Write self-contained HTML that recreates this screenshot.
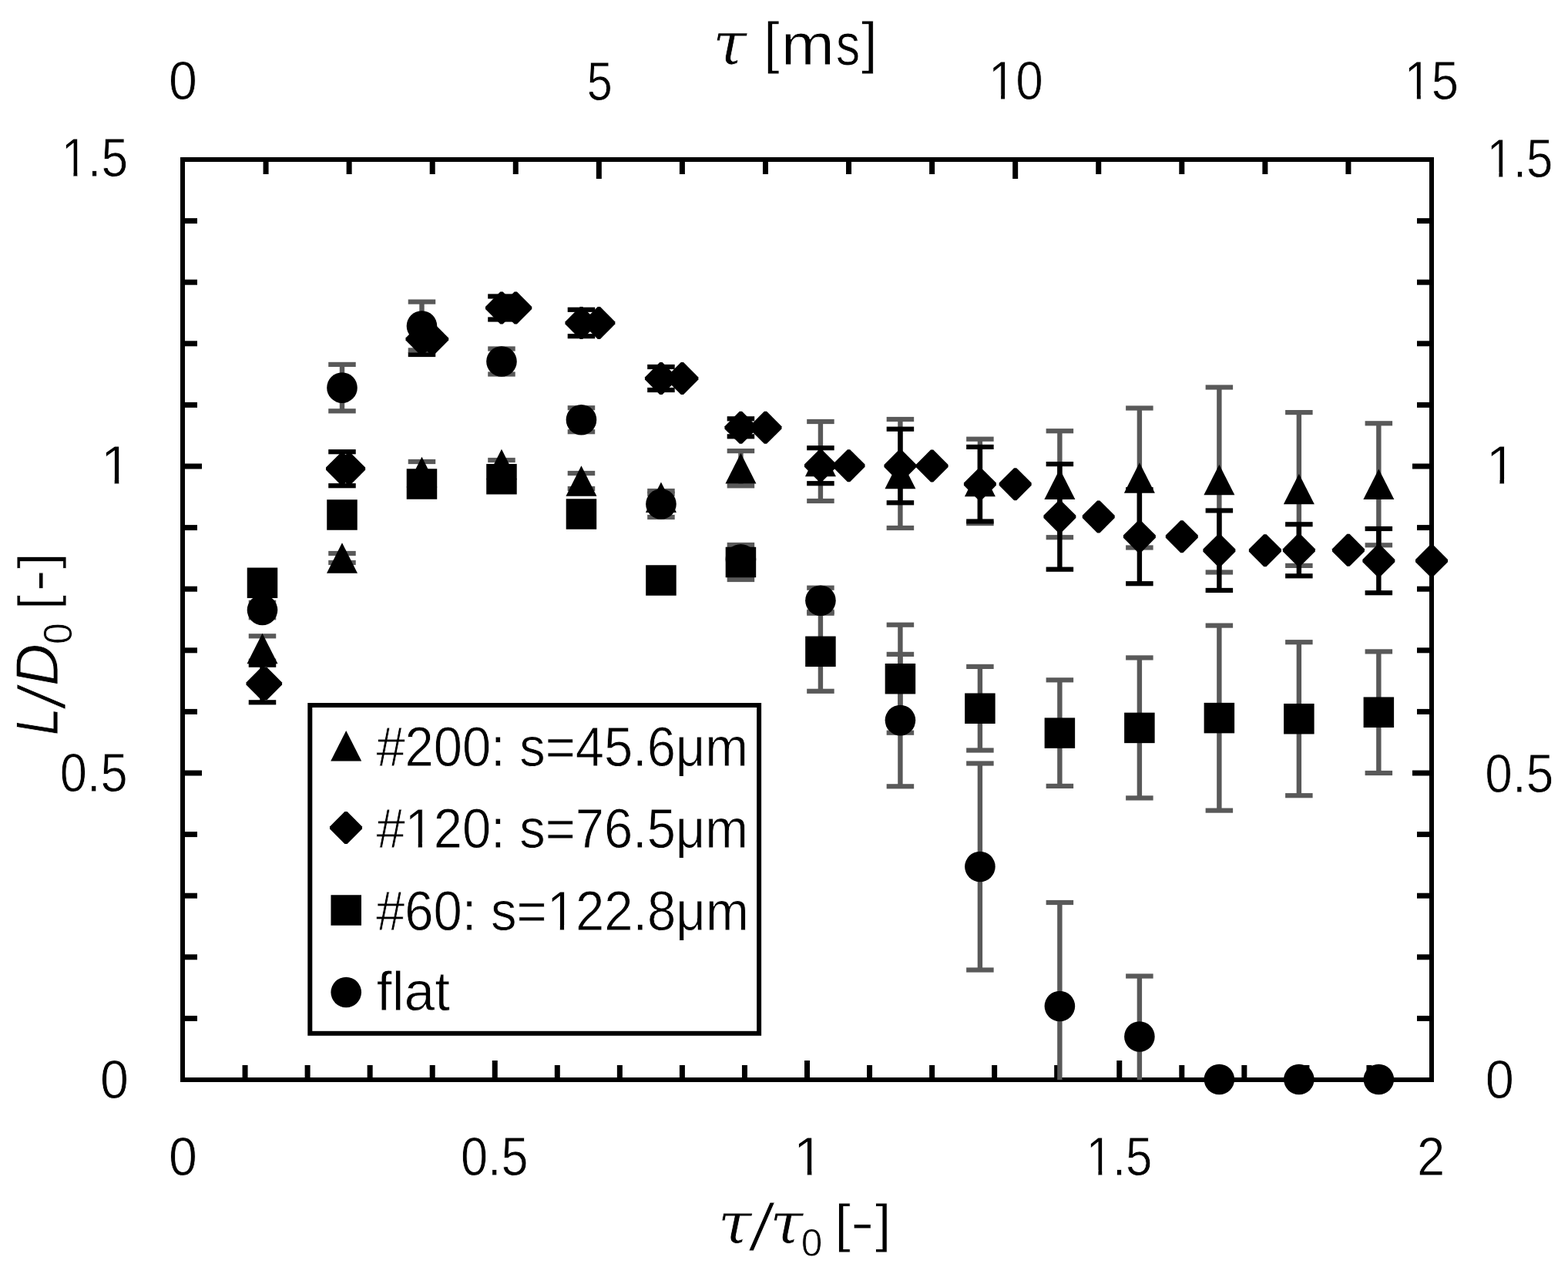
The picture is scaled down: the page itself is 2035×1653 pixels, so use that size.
<!DOCTYPE html>
<html><head><meta charset="utf-8"><title>L/D0 vs tau/tau0</title>
<style>html,body{margin:0;padding:0;background:#fff;}svg{display:block;}</style>
</head><body>
<svg width="2035" height="1653" viewBox="0 0 2035 1653">
<rect width="2035" height="1653" fill="#fff"/>
<rect x="237" y="207" width="1621" height="1194" fill="none" stroke="#000" stroke-width="6"/>
<g fill="#000"><rect x="237" y="1317.9" width="19" height="7"/><rect x="1839" y="1317.9" width="19" height="7"/><rect x="237" y="1238.3" width="19" height="7"/><rect x="1839" y="1238.3" width="19" height="7"/><rect x="237" y="1158.7" width="19" height="7"/><rect x="1839" y="1158.7" width="19" height="7"/><rect x="237" y="1079.1" width="19" height="7"/><rect x="1839" y="1079.1" width="19" height="7"/><rect x="237" y="999.5" width="25" height="7"/><rect x="1833" y="999.5" width="25" height="7"/><rect x="237" y="919.9" width="19" height="7"/><rect x="1839" y="919.9" width="19" height="7"/><rect x="237" y="840.3" width="19" height="7"/><rect x="1839" y="840.3" width="19" height="7"/><rect x="237" y="760.7" width="19" height="7"/><rect x="1839" y="760.7" width="19" height="7"/><rect x="237" y="681.1" width="19" height="7"/><rect x="1839" y="681.1" width="19" height="7"/><rect x="237" y="601.5" width="25" height="7"/><rect x="1833" y="601.5" width="25" height="7"/><rect x="237" y="521.9" width="19" height="7"/><rect x="1839" y="521.9" width="19" height="7"/><rect x="237" y="442.3" width="19" height="7"/><rect x="1839" y="442.3" width="19" height="7"/><rect x="237" y="362.7" width="19" height="7"/><rect x="1839" y="362.7" width="19" height="7"/><rect x="237" y="283.1" width="19" height="7"/><rect x="1839" y="283.1" width="19" height="7"/><rect x="314.55" y="1382" width="7" height="19"/><rect x="395.6" y="1382" width="7" height="19"/><rect x="476.65" y="1382" width="7" height="19"/><rect x="557.7" y="1382" width="7" height="19"/><rect x="638.75" y="1376" width="7" height="25"/><rect x="719.8" y="1382" width="7" height="19"/><rect x="800.85" y="1382" width="7" height="19"/><rect x="881.9" y="1382" width="7" height="19"/><rect x="962.95" y="1382" width="7" height="19"/><rect x="1044" y="1376" width="7" height="25"/><rect x="1125.05" y="1382" width="7" height="19"/><rect x="1206.1" y="1382" width="7" height="19"/><rect x="1287.15" y="1382" width="7" height="19"/><rect x="1368.2" y="1382" width="7" height="19"/><rect x="1449.25" y="1376" width="7" height="25"/><rect x="1530.3" y="1382" width="7" height="19"/><rect x="1611.35" y="1382" width="7" height="19"/><rect x="1692.4" y="1382" width="7" height="19"/><rect x="1773.45" y="1382" width="7" height="19"/><rect x="341.57" y="207" width="7" height="19"/><rect x="449.63" y="207" width="7" height="19"/><rect x="557.7" y="207" width="7" height="19"/><rect x="665.77" y="207" width="7" height="19"/><rect x="773.83" y="207" width="7" height="25"/><rect x="881.9" y="207" width="7" height="19"/><rect x="989.97" y="207" width="7" height="19"/><rect x="1098.03" y="207" width="7" height="19"/><rect x="1206.1" y="207" width="7" height="19"/><rect x="1314.17" y="207" width="7" height="25"/><rect x="1422.23" y="207" width="7" height="19"/><rect x="1530.3" y="207" width="7" height="19"/><rect x="1638.37" y="207" width="7" height="19"/><rect x="1746.43" y="207" width="7" height="19"/></g>
<g><rect x="337.29" y="825.3" width="6.4" height="32.4" fill="#595959"/><rect x="322.74" y="822.2" width="35.5" height="6.2" fill="#595959"/><rect x="322.74" y="854.6" width="35.5" height="6.2" fill="#595959"/><rect x="440.78" y="718" width="6.4" height="12" fill="#595959"/><rect x="426.23" y="714.9" width="35.5" height="6.2" fill="#595959"/><rect x="426.23" y="726.9" width="35.5" height="6.2" fill="#595959"/><rect x="544.27" y="599" width="6.4" height="27.2" fill="#595959"/><rect x="529.72" y="595.9" width="35.5" height="6.2" fill="#595959"/><rect x="529.72" y="623.1" width="35.5" height="6.2" fill="#595959"/><rect x="647.76" y="597" width="6.4" height="11" fill="#595959"/><rect x="633.21" y="593.9" width="35.5" height="6.2" fill="#595959"/><rect x="633.21" y="604.9" width="35.5" height="6.2" fill="#595959"/><rect x="751.25" y="614" width="6.4" height="20" fill="#595959"/><rect x="736.7" y="610.9" width="35.5" height="6.2" fill="#595959"/><rect x="736.7" y="630.9" width="35.5" height="6.2" fill="#595959"/><rect x="854.74" y="640.8" width="6.4" height="9" fill="#595959"/><rect x="840.19" y="637.7" width="35.5" height="6.2" fill="#595959"/><rect x="840.19" y="646.7" width="35.5" height="6.2" fill="#595959"/><rect x="958.23" y="585.1" width="6.4" height="45.2" fill="#595959"/><rect x="943.68" y="582" width="35.5" height="6.2" fill="#595959"/><rect x="943.68" y="627.2" width="35.5" height="6.2" fill="#595959"/><rect x="1061.72" y="547" width="6.4" height="103" fill="#595959"/><rect x="1047.17" y="543.9" width="35.5" height="6.2" fill="#595959"/><rect x="1047.17" y="646.9" width="35.5" height="6.2" fill="#595959"/><rect x="1165.21" y="544" width="6.4" height="141" fill="#595959"/><rect x="1150.66" y="540.9" width="35.5" height="6.2" fill="#595959"/><rect x="1150.66" y="681.9" width="35.5" height="6.2" fill="#595959"/><rect x="1268.7" y="569.7" width="6.4" height="109.4" fill="#595959"/><rect x="1254.15" y="566.6" width="35.5" height="6.2" fill="#595959"/><rect x="1254.15" y="676" width="35.5" height="6.2" fill="#595959"/><rect x="1372.19" y="559.2" width="6.4" height="138" fill="#595959"/><rect x="1357.64" y="556.1" width="35.5" height="6.2" fill="#595959"/><rect x="1357.64" y="694.1" width="35.5" height="6.2" fill="#595959"/><rect x="1475.68" y="529.5" width="6.4" height="181" fill="#595959"/><rect x="1461.13" y="526.4" width="35.5" height="6.2" fill="#595959"/><rect x="1461.13" y="707.4" width="35.5" height="6.2" fill="#595959"/><rect x="1579.17" y="502.5" width="6.4" height="240" fill="#595959"/><rect x="1564.62" y="499.4" width="35.5" height="6.2" fill="#595959"/><rect x="1564.62" y="739.4" width="35.5" height="6.2" fill="#595959"/><rect x="1682.66" y="535.1" width="6.4" height="198.8" fill="#595959"/><rect x="1668.11" y="532" width="35.5" height="6.2" fill="#595959"/><rect x="1668.11" y="730.8" width="35.5" height="6.2" fill="#595959"/><rect x="1786.15" y="549.3" width="6.4" height="158" fill="#595959"/><rect x="1771.6" y="546.2" width="35.5" height="6.2" fill="#595959"/><rect x="1771.6" y="704.2" width="35.5" height="6.2" fill="#595959"/><rect x="337.29" y="862.7" width="6.4" height="48.6" fill="#000"/><rect x="322.74" y="859.6" width="35.5" height="6.2" fill="#000"/><rect x="322.74" y="908.2" width="35.5" height="6.2" fill="#000"/><rect x="440.78" y="586.2" width="6.4" height="44" fill="#000"/><rect x="426.23" y="583.1" width="35.5" height="6.2" fill="#000"/><rect x="426.23" y="627.1" width="35.5" height="6.2" fill="#000"/><rect x="544.27" y="420" width="6.4" height="40" fill="#000"/><rect x="529.72" y="416.9" width="35.5" height="6.2" fill="#000"/><rect x="529.72" y="456.9" width="35.5" height="6.2" fill="#000"/><rect x="647.76" y="384.5" width="6.4" height="30" fill="#000"/><rect x="633.21" y="381.4" width="35.5" height="6.2" fill="#000"/><rect x="633.21" y="411.4" width="35.5" height="6.2" fill="#000"/><rect x="751.25" y="401.8" width="6.4" height="34.4" fill="#000"/><rect x="736.7" y="398.7" width="35.5" height="6.2" fill="#000"/><rect x="736.7" y="433.1" width="35.5" height="6.2" fill="#000"/><rect x="854.74" y="476" width="6.4" height="30" fill="#000"/><rect x="840.19" y="472.9" width="35.5" height="6.2" fill="#000"/><rect x="840.19" y="502.9" width="35.5" height="6.2" fill="#000"/><rect x="958.23" y="543.3" width="6.4" height="23" fill="#000"/><rect x="943.68" y="540.2" width="35.5" height="6.2" fill="#000"/><rect x="943.68" y="563.2" width="35.5" height="6.2" fill="#000"/><rect x="1061.72" y="581.2" width="6.4" height="46" fill="#000"/><rect x="1047.17" y="578.1" width="35.5" height="6.2" fill="#000"/><rect x="1047.17" y="624.1" width="35.5" height="6.2" fill="#000"/><rect x="1165.21" y="556.7" width="6.4" height="95.6" fill="#000"/><rect x="1150.66" y="553.6" width="35.5" height="6.2" fill="#000"/><rect x="1150.66" y="649.2" width="35.5" height="6.2" fill="#000"/><rect x="1268.7" y="579.9" width="6.4" height="96.6" fill="#000"/><rect x="1254.15" y="576.8" width="35.5" height="6.2" fill="#000"/><rect x="1254.15" y="673.4" width="35.5" height="6.2" fill="#000"/><rect x="1372.19" y="602.1" width="6.4" height="136.6" fill="#000"/><rect x="1357.64" y="599" width="35.5" height="6.2" fill="#000"/><rect x="1357.64" y="735.6" width="35.5" height="6.2" fill="#000"/><rect x="1475.68" y="635.2" width="6.4" height="122" fill="#000"/><rect x="1461.13" y="632.1" width="35.5" height="6.2" fill="#000"/><rect x="1461.13" y="754.1" width="35.5" height="6.2" fill="#000"/><rect x="1579.17" y="662.45" width="6.4" height="103.5" fill="#000"/><rect x="1564.62" y="659.35" width="35.5" height="6.2" fill="#000"/><rect x="1564.62" y="762.85" width="35.5" height="6.2" fill="#000"/><rect x="1682.66" y="680.3" width="6.4" height="67" fill="#000"/><rect x="1668.11" y="677.2" width="35.5" height="6.2" fill="#000"/><rect x="1668.11" y="744.2" width="35.5" height="6.2" fill="#000"/><rect x="1786.15" y="686" width="6.4" height="83.2" fill="#000"/><rect x="1771.6" y="682.9" width="35.5" height="6.2" fill="#000"/><rect x="1771.6" y="766.1" width="35.5" height="6.2" fill="#000"/><rect x="958.23" y="707" width="6.4" height="45" fill="#595959"/><rect x="943.68" y="703.9" width="35.5" height="6.2" fill="#595959"/><rect x="943.68" y="748.9" width="35.5" height="6.2" fill="#595959"/><rect x="1061.72" y="793.8" width="6.4" height="103" fill="#595959"/><rect x="1047.17" y="790.7" width="35.5" height="6.2" fill="#595959"/><rect x="1047.17" y="893.7" width="35.5" height="6.2" fill="#595959"/><rect x="1165.21" y="810.7" width="6.4" height="140" fill="#595959"/><rect x="1150.66" y="807.6" width="35.5" height="6.2" fill="#595959"/><rect x="1150.66" y="947.6" width="35.5" height="6.2" fill="#595959"/><rect x="1268.7" y="864.9" width="6.4" height="108.6" fill="#595959"/><rect x="1254.15" y="861.8" width="35.5" height="6.2" fill="#595959"/><rect x="1254.15" y="970.4" width="35.5" height="6.2" fill="#595959"/><rect x="1372.19" y="882.3" width="6.4" height="137.6" fill="#595959"/><rect x="1357.64" y="879.2" width="35.5" height="6.2" fill="#595959"/><rect x="1357.64" y="1016.8" width="35.5" height="6.2" fill="#595959"/><rect x="1475.68" y="853.4" width="6.4" height="182" fill="#595959"/><rect x="1461.13" y="850.3" width="35.5" height="6.2" fill="#595959"/><rect x="1461.13" y="1032.3" width="35.5" height="6.2" fill="#595959"/><rect x="1579.17" y="811.6" width="6.4" height="240" fill="#595959"/><rect x="1564.62" y="808.5" width="35.5" height="6.2" fill="#595959"/><rect x="1564.62" y="1048.5" width="35.5" height="6.2" fill="#595959"/><rect x="1682.66" y="833.2" width="6.4" height="199" fill="#595959"/><rect x="1668.11" y="830.1" width="35.5" height="6.2" fill="#595959"/><rect x="1668.11" y="1029.1" width="35.5" height="6.2" fill="#595959"/><rect x="1786.15" y="845.4" width="6.4" height="157.6" fill="#595959"/><rect x="1771.6" y="842.3" width="35.5" height="6.2" fill="#595959"/><rect x="1771.6" y="999.9" width="35.5" height="6.2" fill="#595959"/><rect x="337.29" y="781.75" width="6.4" height="19.5" fill="#595959"/><rect x="322.74" y="778.65" width="35.5" height="6.2" fill="#595959"/><rect x="322.74" y="798.15" width="35.5" height="6.2" fill="#595959"/><rect x="440.78" y="472.9" width="6.4" height="60.4" fill="#595959"/><rect x="426.23" y="469.8" width="35.5" height="6.2" fill="#595959"/><rect x="426.23" y="530.2" width="35.5" height="6.2" fill="#595959"/><rect x="544.27" y="391.6" width="6.4" height="62.8" fill="#595959"/><rect x="529.72" y="388.5" width="35.5" height="6.2" fill="#595959"/><rect x="529.72" y="451.3" width="35.5" height="6.2" fill="#595959"/><rect x="647.76" y="452.5" width="6.4" height="33" fill="#595959"/><rect x="633.21" y="449.4" width="35.5" height="6.2" fill="#595959"/><rect x="633.21" y="482.4" width="35.5" height="6.2" fill="#595959"/><rect x="751.25" y="529.2" width="6.4" height="31" fill="#595959"/><rect x="736.7" y="526.1" width="35.5" height="6.2" fill="#595959"/><rect x="736.7" y="557.1" width="35.5" height="6.2" fill="#595959"/><rect x="854.74" y="637" width="6.4" height="34" fill="#595959"/><rect x="840.19" y="633.9" width="35.5" height="6.2" fill="#595959"/><rect x="840.19" y="667.9" width="35.5" height="6.2" fill="#595959"/><rect x="1061.72" y="762.7" width="6.4" height="33" fill="#595959"/><rect x="1047.17" y="759.6" width="35.5" height="6.2" fill="#595959"/><rect x="1047.17" y="792.6" width="35.5" height="6.2" fill="#595959"/><rect x="1165.21" y="848.9" width="6.4" height="171.4" fill="#595959"/><rect x="1150.66" y="845.8" width="35.5" height="6.2" fill="#595959"/><rect x="1150.66" y="1017.2" width="35.5" height="6.2" fill="#595959"/><rect x="1268.7" y="990.5" width="6.4" height="268" fill="#595959"/><rect x="1254.15" y="987.4" width="35.5" height="6.2" fill="#595959"/><rect x="1254.15" y="1255.4" width="35.5" height="6.2" fill="#595959"/><rect x="1372.19" y="1171" width="6.4" height="230" fill="#595959"/><rect x="1357.64" y="1167.9" width="35.5" height="6.2" fill="#595959"/><rect x="1475.68" y="1266.5" width="6.4" height="134.5" fill="#595959"/><rect x="1461.13" y="1263.4" width="35.5" height="6.2" fill="#595959"/></g>
<g fill="#000"><polygon points="340.49,821.75 360.49,861.25 320.49,861.25"/><polygon points="443.98,704.25 463.98,743.75 423.98,743.75"/><polygon points="547.47,592.85 567.47,632.35 527.47,632.35"/><polygon points="650.96,582.75 670.96,622.25 630.96,622.25"/><polygon points="754.45,604.25 774.45,643.75 734.45,643.75"/><polygon points="857.94,625.55 877.94,665.05 837.94,665.05"/><polygon points="961.43,587.95 981.43,627.45 941.43,627.45"/><polygon points="1064.92,578.75 1084.92,618.25 1044.92,618.25"/><polygon points="1168.41,594.75 1188.41,634.25 1148.41,634.25"/><polygon points="1271.9,604.65 1291.9,644.15 1251.9,644.15"/><polygon points="1375.39,608.45 1395.39,647.95 1355.39,647.95"/><polygon points="1478.88,600.25 1498.88,639.75 1458.88,639.75"/><polygon points="1582.37,602.75 1602.37,642.25 1562.37,642.25"/><polygon points="1685.86,614.75 1705.86,654.25 1665.86,654.25"/><polygon points="1789.35,608.55 1809.35,648.05 1769.35,648.05"/><polygon points="338.89,866 342.09,866 361.49,885.4 361.49,888.6 342.09,908 338.89,908 319.49,888.6 319.49,885.4"/><polygon points="343.47,866 346.67,866 366.07,885.4 366.07,888.6 346.67,908 343.47,908 324.07,888.6 324.07,885.4"/><polygon points="442.38,587.2 445.58,587.2 464.98,606.6 464.98,609.8 445.58,629.2 442.38,629.2 422.98,609.8 422.98,606.6"/><polygon points="451.53,587.2 454.73,587.2 474.13,606.6 474.13,609.8 454.73,629.2 451.53,629.2 432.13,609.8 432.13,606.6"/><polygon points="545.87,419 549.07,419 568.47,438.4 568.47,441.6 549.07,461 545.87,461 526.47,441.6 526.47,438.4"/><polygon points="559.6,419 562.8,419 582.2,438.4 582.2,441.6 562.8,461 559.6,461 540.2,441.6 540.2,438.4"/><polygon points="649.36,378.5 652.56,378.5 671.96,397.9 671.96,401.1 652.56,420.5 649.36,420.5 629.96,401.1 629.96,397.9"/><polygon points="667.67,378.5 670.87,378.5 690.27,397.9 690.27,401.1 670.87,420.5 667.67,420.5 648.27,401.1 648.27,397.9"/><polygon points="752.85,398 756.05,398 775.45,417.4 775.45,420.6 756.05,440 752.85,440 733.45,420.6 733.45,417.4"/><polygon points="775.73,398 778.93,398 798.33,417.4 798.33,420.6 778.93,440 775.73,440 756.33,420.6 756.33,417.4"/><polygon points="856.34,470 859.54,470 878.94,489.4 878.94,492.6 859.54,512 856.34,512 836.94,492.6 836.94,489.4"/><polygon points="883.8,470 887,470 906.4,489.4 906.4,492.6 887,512 883.8,512 864.4,492.6 864.4,489.4"/><polygon points="959.83,533.8 963.03,533.8 982.43,553.2 982.43,556.4 963.03,575.8 959.83,575.8 940.43,556.4 940.43,553.2"/><polygon points="991.87,533.8 995.07,533.8 1014.47,553.2 1014.47,556.4 995.07,575.8 991.87,575.8 972.47,556.4 972.47,553.2"/><polygon points="1063.32,583.2 1066.52,583.2 1085.92,602.6 1085.92,605.8 1066.52,625.2 1063.32,625.2 1043.92,605.8 1043.92,602.6"/><polygon points="1099.93,583.2 1103.13,583.2 1122.53,602.6 1122.53,605.8 1103.13,625.2 1099.93,625.2 1080.53,605.8 1080.53,602.6"/><polygon points="1166.81,583.5 1170.01,583.5 1189.41,602.9 1189.41,606.1 1170.01,625.5 1166.81,625.5 1147.41,606.1 1147.41,602.9"/><polygon points="1208,583.5 1211.2,583.5 1230.6,602.9 1230.6,606.1 1211.2,625.5 1208,625.5 1188.6,606.1 1188.6,602.9"/><polygon points="1270.3,607.2 1273.5,607.2 1292.9,626.6 1292.9,629.8 1273.5,649.2 1270.3,649.2 1250.9,629.8 1250.9,626.6"/><polygon points="1316.07,607.2 1319.27,607.2 1338.67,626.6 1338.67,629.8 1319.27,649.2 1316.07,649.2 1296.67,629.8 1296.67,626.6"/><polygon points="1373.79,649.4 1376.99,649.4 1396.39,668.8 1396.39,672 1376.99,691.4 1373.79,691.4 1354.39,672 1354.39,668.8"/><polygon points="1424.13,649.4 1427.33,649.4 1446.73,668.8 1446.73,672 1427.33,691.4 1424.13,691.4 1404.73,672 1404.73,668.8"/><polygon points="1477.28,675.2 1480.48,675.2 1499.88,694.6 1499.88,697.8 1480.48,717.2 1477.28,717.2 1457.88,697.8 1457.88,694.6"/><polygon points="1532.2,675.2 1535.4,675.2 1554.8,694.6 1554.8,697.8 1535.4,717.2 1532.2,717.2 1512.8,697.8 1512.8,694.6"/><polygon points="1580.77,693.2 1583.97,693.2 1603.37,712.6 1603.37,715.8 1583.97,735.2 1580.77,735.2 1561.37,715.8 1561.37,712.6"/><polygon points="1640.27,693.2 1643.47,693.2 1662.87,712.6 1662.87,715.8 1643.47,735.2 1640.27,735.2 1620.87,715.8 1620.87,712.6"/><polygon points="1684.26,692.8 1687.46,692.8 1706.86,712.2 1706.86,715.4 1687.46,734.8 1684.26,734.8 1664.86,715.4 1664.86,712.2"/><polygon points="1748.33,692.8 1751.53,692.8 1770.93,712.2 1770.93,715.4 1751.53,734.8 1748.33,734.8 1728.93,715.4 1728.93,712.2"/><polygon points="1787.75,706.6 1790.95,706.6 1810.35,726 1810.35,729.2 1790.95,748.6 1787.75,748.6 1768.35,729.2 1768.35,726"/><polygon points="1856.4,706.6 1859.6,706.6 1879,726 1879,729.2 1859.6,748.6 1856.4,748.6 1837,729.2 1837,726"/><rect x="320.74" y="736.55" width="39.5" height="39.5"/><rect x="424.23" y="648.25" width="39.5" height="39.5"/><rect x="527.72" y="608.25" width="39.5" height="39.5"/><rect x="631.21" y="601.95" width="39.5" height="39.5"/><rect x="734.7" y="647.25" width="39.5" height="39.5"/><rect x="838.19" y="733.25" width="39.5" height="39.5"/><rect x="941.68" y="709.75" width="39.5" height="39.5"/><rect x="1045.17" y="825.55" width="39.5" height="39.5"/><rect x="1148.66" y="860.95" width="39.5" height="39.5"/><rect x="1252.15" y="899.45" width="39.5" height="39.5"/><rect x="1355.64" y="931.35" width="39.5" height="39.5"/><rect x="1459.13" y="924.65" width="39.5" height="39.5"/><rect x="1562.62" y="911.85" width="39.5" height="39.5"/><rect x="1666.11" y="912.95" width="39.5" height="39.5"/><rect x="1769.6" y="904.45" width="39.5" height="39.5"/><circle cx="340.49" cy="791.5" r="19.8"/><circle cx="443.98" cy="503.1" r="19.8"/><circle cx="547.47" cy="423" r="19.8"/><circle cx="650.96" cy="469" r="19.8"/><circle cx="754.45" cy="544.7" r="19.8"/><circle cx="857.94" cy="654" r="19.8"/><circle cx="961.43" cy="725.7" r="19.8"/><circle cx="1064.92" cy="779.2" r="19.8"/><circle cx="1168.41" cy="934.6" r="19.8"/><circle cx="1271.9" cy="1124.5" r="19.8"/><circle cx="1375.39" cy="1305.5" r="19.8"/><circle cx="1478.88" cy="1345" r="19.8"/><circle cx="1582.37" cy="1400.5" r="19.8"/><circle cx="1685.86" cy="1400.5" r="19.8"/><circle cx="1789.35" cy="1400.5" r="19.8"/></g>
<rect x="402.3" y="915" width="582.8" height="425.8" fill="#fff" stroke="#000" stroke-width="6"/><g fill="#000"><polygon points="449.2,948.05 469.2,987.55 429.2,987.55"/><polygon points="447.4,1053 450.6,1053 470,1072.4 470,1075.6 450.6,1095 447.4,1095 428,1075.6 428,1072.4"/><rect x="429.45" y="1161.25" width="39.5" height="39.5"/><circle cx="449.2" cy="1287.5" r="19.8"/></g>
<defs><clipPath id="c0"><path clip-rule="evenodd" d="M0 0H2035V1653H0ZM82.71 222.5H95.49V231.37H82.71ZM100.3 222.5H112.59V231.37H100.3Z"/></clipPath><clipPath id="c1"><path clip-rule="evenodd" d="M0 0H2035V1653H0ZM134.51 620.85H148.72V629.72H134.51ZM154.26 620.85H167.92V629.72H154.26Z"/></clipPath><clipPath id="c4"><path clip-rule="evenodd" d="M0 0H2035V1653H0ZM1932.77 222.9H1945.46V231.77H1932.77ZM1950.22 222.9H1962.42V231.77H1950.22Z"/></clipPath><clipPath id="c5"><path clip-rule="evenodd" d="M0 0H2035V1653H0ZM1932.31 620.8H1946.52V629.67H1932.31ZM1952.06 620.8H1965.72V629.67H1952.06Z"/></clipPath><clipPath id="c10"><path clip-rule="evenodd" d="M0 0H2035V1653H0ZM1033.61 1517.85H1047.82V1526.72H1033.61ZM1053.36 1517.85H1067.02V1526.72H1053.36Z"/></clipPath><clipPath id="c11"><path clip-rule="evenodd" d="M0 0H2035V1653H0ZM1412.77 1517.95H1425.46V1526.82H1412.77ZM1430.22 1517.95H1442.42V1526.82H1430.22Z"/></clipPath><clipPath id="c15"><path clip-rule="evenodd" d="M0 0H2035V1653H0ZM1286.03 122.4H1299.1V131.27H1286.03ZM1304.06 122.4H1316.63V131.27H1304.06Z"/></clipPath><clipPath id="c16"><path clip-rule="evenodd" d="M0 0H2035V1653H0ZM1825.9 121.9H1838.89V130.77H1825.9ZM1843.8 121.9H1856.29V130.77H1843.8Z"/></clipPath><clipPath id="c18"><path clip-rule="evenodd" d="M0 0H2035V1653H0ZM529.17 1092.84H542.74V1101.84H529.17ZM547.95 1092.84H561V1101.84H547.95Z"/></clipPath><clipPath id="c19"><path clip-rule="evenodd" d="M0 0H2035V1653H0ZM713.25 1199.84H726.85V1208.84H713.25ZM732.07 1199.84H745.15V1208.84H732.07Z"/></clipPath></defs><g fill="#000" stroke="#fff" stroke-width="0.8"><text clip-path="url(#c0)" x="79.46" y="229.37" font-family="'Liberation Sans', sans-serif" font-size="70.5" textLength="86.66" lengthAdjust="spacingAndGlyphs">1.5</text><text clip-path="url(#c1)" x="130.64" y="627.72" font-family="'Liberation Sans', sans-serif" font-size="70.5">1</text><text x="77.8" y="1027.27" font-family="'Liberation Sans', sans-serif" font-size="70.5" textLength="87.9" lengthAdjust="spacingAndGlyphs">0.5</text><text x="129.9" y="1425.17" font-family="'Liberation Sans', sans-serif" font-size="70.5" textLength="36.93" lengthAdjust="spacingAndGlyphs">0</text><text clip-path="url(#c4)" x="1929.56" y="229.77" font-family="'Liberation Sans', sans-serif" font-size="70.5" textLength="85.93" lengthAdjust="spacingAndGlyphs">1.5</text><text clip-path="url(#c5)" x="1928.44" y="627.67" font-family="'Liberation Sans', sans-serif" font-size="70.5">1</text><text x="1927.3" y="1027.72" font-family="'Liberation Sans', sans-serif" font-size="70.5" textLength="88.97" lengthAdjust="spacingAndGlyphs">0.5</text><text x="1927.8" y="1425.27" font-family="'Liberation Sans', sans-serif" font-size="70.5" textLength="37.16" lengthAdjust="spacingAndGlyphs">0</text><text x="218.9" y="1525.32" font-family="'Liberation Sans', sans-serif" font-size="70.5" textLength="36.93" lengthAdjust="spacingAndGlyphs">0</text><text x="598" y="1525.27" font-family="'Liberation Sans', sans-serif" font-size="70.5" textLength="87.69" lengthAdjust="spacingAndGlyphs">0.5</text><text clip-path="url(#c10)" x="1029.74" y="1524.72" font-family="'Liberation Sans', sans-serif" font-size="70.5">1</text><text clip-path="url(#c11)" x="1409.56" y="1524.82" font-family="'Liberation Sans', sans-serif" font-size="70.5" textLength="85.93" lengthAdjust="spacingAndGlyphs">1.5</text><text x="1838.9" y="1525.03" font-family="'Liberation Sans', sans-serif" font-size="70.5" textLength="36.26" lengthAdjust="spacingAndGlyphs">2</text><text x="218.9" y="129.27" font-family="'Liberation Sans', sans-serif" font-size="70.5" textLength="36.93" lengthAdjust="spacingAndGlyphs">0</text><text x="761.7" y="129.72" font-family="'Liberation Sans', sans-serif" font-size="70.5" textLength="33.01" lengthAdjust="spacingAndGlyphs">5</text><text clip-path="url(#c15)" x="1282.66" y="129.27" font-family="'Liberation Sans', sans-serif" font-size="70.5" textLength="71.17" lengthAdjust="spacingAndGlyphs">10</text><text clip-path="url(#c16)" x="1822.56" y="128.77" font-family="'Liberation Sans', sans-serif" font-size="70.5" textLength="70.65" lengthAdjust="spacingAndGlyphs">15</text><text x="488.4" y="993.89" font-family="'Liberation Sans', sans-serif" font-size="72.3" textLength="482.64" lengthAdjust="spacingAndGlyphs">#200: s=45.6μm</text><text clip-path="url(#c18)" x="488.4" y="1099.84" font-family="'Liberation Sans', sans-serif" font-size="72.3" textLength="482.64" lengthAdjust="spacingAndGlyphs">#120: s=76.5μm</text><text clip-path="url(#c19)" x="488" y="1206.84" font-family="'Liberation Sans', sans-serif" font-size="72.3" textLength="483.75" lengthAdjust="spacingAndGlyphs">#60: s=122.8μm</text><text x="488.8" y="1311.09" font-family="'Liberation Sans', sans-serif" font-size="71.35" textLength="95.23" lengthAdjust="spacing">flat</text><text><tspan x="924.7" y="84.21" font-family="'DejaVu Serif', 'Liberation Serif', serif" font-style="italic" font-size="79.42" textLength="44.38" lengthAdjust="spacingAndGlyphs">τ</tspan> <tspan x="990.9" y="81.48" font-family="'Liberation Sans', sans-serif" font-size="73.4" textLength="20.63" lengthAdjust="spacingAndGlyphs">[</tspan><tspan x="1013.8" y="83.9" font-family="'Liberation Sans', sans-serif" font-size="75.37" textLength="69.19" lengthAdjust="spacingAndGlyphs">m</tspan><tspan x="1085" y="84.24" font-family="'Liberation Sans', sans-serif" font-size="76" textLength="31.16" lengthAdjust="spacingAndGlyphs">s</tspan><tspan x="1117.9" y="81.48" font-family="'Liberation Sans', sans-serif" font-size="73.4" textLength="20.63" lengthAdjust="spacingAndGlyphs">]</tspan></text><text><tspan x="931.6" y="1613.25" font-family="'DejaVu Serif', 'Liberation Serif', serif" font-style="italic" font-size="75.19" textLength="44.07" lengthAdjust="spacingAndGlyphs">τ</tspan><tspan x="976.3" y="1622" font-family="'Liberation Sans', sans-serif" font-style="italic" font-size="84.66" textLength="22.34" lengthAdjust="spacingAndGlyphs">/</tspan><tspan x="999" y="1613.25" font-family="'DejaVu Serif', 'Liberation Serif', serif" font-style="italic" font-size="75.19" textLength="43.37" lengthAdjust="spacingAndGlyphs">τ</tspan><tspan x="1039.8" y="1630.39" font-family="'Liberation Sans', sans-serif" font-size="50.84" textLength="27.58" lengthAdjust="spacingAndGlyphs">0</tspan> <tspan x="1083.2" y="1610.52" font-family="'Liberation Sans', sans-serif" font-size="68.94" textLength="20.59" lengthAdjust="spacingAndGlyphs">[</tspan><tspan x="1104" y="1609.71" font-family="'Liberation Sans', sans-serif" font-size="68.9" textLength="30.42" lengthAdjust="spacingAndGlyphs">-</tspan><tspan x="1136" y="1610.52" font-family="'Liberation Sans', sans-serif" font-size="68.94" textLength="20.48" lengthAdjust="spacingAndGlyphs">]</tspan></text></g>
<g fill="#000" stroke="#fff" stroke-width="0.8" transform="rotate(-90)"><text><tspan x="-954" y="75.1" font-family="'Liberation Sans', sans-serif" font-style="italic" font-size="77.25" textLength="35.82" lengthAdjust="spacingAndGlyphs">L</tspan><tspan x="-916" y="84.1" font-family="'Liberation Sans', sans-serif" font-style="italic" font-size="85.34" textLength="21.64" lengthAdjust="spacingAndGlyphs">/</tspan><tspan x="-890.1" y="75.1" font-family="'Liberation Sans', sans-serif" font-style="italic" font-size="77.25" textLength="54.77" lengthAdjust="spacingAndGlyphs">D</tspan><tspan x="-836.1" y="93.48" font-family="'Liberation Sans', sans-serif" font-size="52.11" textLength="27.81" lengthAdjust="spacingAndGlyphs">0</tspan> <tspan x="-790.7" y="72.35" font-family="'Liberation Sans', sans-serif" font-size="68.83" textLength="18.76" lengthAdjust="spacingAndGlyphs">[</tspan><tspan x="-767.5" y="71.61" font-family="'Liberation Sans', sans-serif" font-size="68.9" textLength="28.42" lengthAdjust="spacingAndGlyphs">-</tspan><tspan x="-737.9" y="72.35" font-family="'Liberation Sans', sans-serif" font-size="68.83" textLength="21.12" lengthAdjust="spacingAndGlyphs">]</tspan></text></g>
</svg>
</body></html>
